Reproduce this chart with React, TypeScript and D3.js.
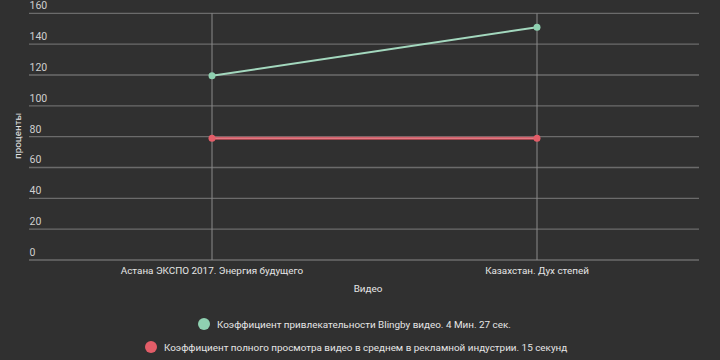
import React from "react";
import * as d3 from "d3";

const categories = ["Астана ЭКСПО 2017. Энергия будущего", "Казахстан. Дух степей"];
const engagement = [119.5, 151];
const industry = [79, 79];
const yTicks = [0, 20, 40, 60, 80, 100, 120, 140, 160];
const seriesNames = [
  "Коэффициент привлекательности Blingby видео. 4 Мин. 27 сек.",
  "Коэффициент полного просмотра видео в среднем в рекламной индустрии. 15 секунд",
];
const seriesColors = ["#8fd1b1", "#e35d68"];

export default function App() {
  const W = 720, H = 360;
  const left = 29, right = 699, top = 13.3, bottom = 260;
  const y = d3.scaleLinear().domain([0, 160]).range([bottom, top]);
  const x = d3.scalePoint<string>().domain(categories).range([212, 537]);
  const line = d3.line<number>().x((_, i) => x(categories[i])!).y((d) => y(d));
  const font = "Roboto, 'Noto Sans', sans-serif";
  const series = [engagement, industry];
  return (
    <svg width={W} height={H} style={{ position: "absolute", left: 0, top: 0, display: "block" }}>
      <rect width={W} height={H} fill="#303030" />
      {yTicks.map((t) => (
        <g key={t}>
          <line x1={left} x2={right} y1={y(t)} y2={y(t)} stroke="#6b6b6b" strokeWidth={1.3} />
          <text x={left + 0.5} y={y(t) - 4} fill="#cfcfcf" fontSize={10.5} fontFamily={font}>{t}</text>
        </g>
      ))}
      {categories.map((c) => (
        <g key={c}>
          <line x1={x(c)} x2={x(c)} y1={top} y2={bottom} stroke="#8a8a8a" strokeWidth={1} />
          <text x={x(c)} y={274} textAnchor="middle" fill="#e6e6e6" fontSize={9.9} fontFamily={font}>{c}</text>
        </g>
      ))}
      <text x={368} y={292} textAnchor="middle" fill="#e6e6e6" fontSize={9.9} fontFamily={font}>Видео</text>
      <text transform={`translate(21,136) rotate(-90)`} textAnchor="middle" fill="#e6e6e6" fontSize={9.9} fontFamily={font}>проценты</text>
      <path d={line(industry)!} fill="none" stroke="#c44c57" strokeWidth={3} />
      <path d={line(industry)!} fill="none" stroke="#ee8d95" strokeWidth={1} />
      <path d={line(engagement)!} fill="none" stroke="#a3d8be" strokeWidth={2} />
      {series.map((s, si) =>
        s.map((v, i) => (
          <circle key={`${si}-${i}`} cx={x(categories[i])} cy={y(v)} r={3.5} fill={seriesColors[si]} />
        ))
      )}
      <circle cx={204} cy={324} r={6} fill={seriesColors[0]} />
      <text x={217} y={327.5} fill="#e6e6e6" fontSize={9.9} fontFamily={font}>{seriesNames[0]}</text>
      <circle cx={151} cy={347} r={6} fill={seriesColors[1]} />
      <text x={164} y={350.5} fill="#e6e6e6" fontSize={9.9} fontFamily={font}>{seriesNames[1]}</text>
    </svg>
  );
}
